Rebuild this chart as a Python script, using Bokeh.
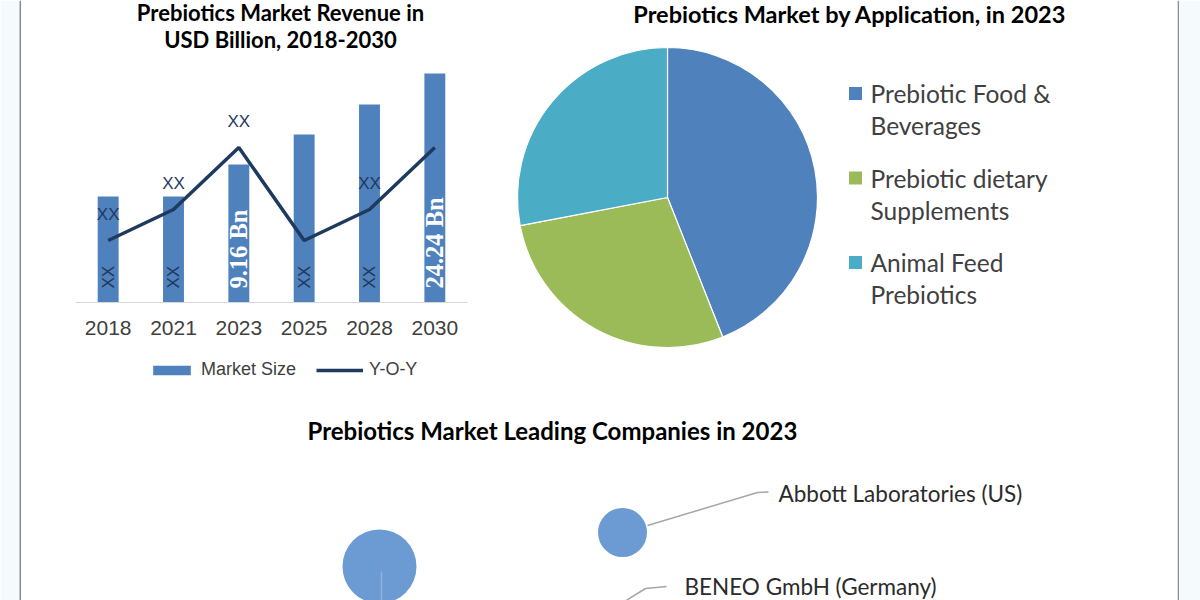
import math
from bokeh.plotting import figure
from bokeh.layouts import row, column
from bokeh.models import Range1d, FactorRange, Label, Legend, LegendItem, Span, BoxAnnotation
from bokeh.core.properties import value
from bokeh.embed import file_html
from bokeh.resources import INLINE

# ---------------- data ----------------
years = ["2018", "2021", "2023", "2025", "2028", "2030"]
market_size = [3.86, 3.86, 9.16, 14.13, 19.10, 24.24]   # USD Bn
yoy_growth = [2.0, 3.0, 5.0, 2.0, 3.0, 5.0]              # Y-O-Y (shown as "XX")
yoy_labels = ["XX", "XX", "XX", "", "XX", ""]
bar_labels = ["XX", "XX", "9.16 Bn", "XX", "XX", "24.24 Bn"]

applications = ["Prebiotic Food &\nBeverages",
                "Prebiotic dietary\nSupplements",
                "Animal Feed\nPrebiotics"]
app_share = [44, 28, 28]
app_colors = ["#4f81bd", "#9bbb59", "#4bacc6"]

companies = ["Abbott Laboratories (US)", "BENEO GmbH (Germany)"]

# bubble diagram (leading companies)
bubble_x = [622, 379]
bubble_y = [532, 566]
bubble_r = [24.5, 37]

FONT_T = "Lato"
TXT = "#404040"
BG_SIDE = "#f5fafc"

# ---------------- side strips ----------------
def strip(w, line_at, side_lo, side_hi):
    s = figure(width=w, height=600, x_range=Range1d(0, w), y_range=Range1d(0, 600),
               output_backend="svg", toolbar_location=None,
               x_axis_location=None, y_axis_location=None, min_border=0)
    s.grid.visible = False
    s.outline_line_color = None
    s.background_fill_color = "white"
    s.border_fill_color = "white"
    s.add_layout(BoxAnnotation(left=side_lo, right=side_hi, fill_color=BG_SIDE,
                               fill_alpha=1, line_color=None))
    s.add_layout(Span(location=line_at, dimension="height", line_color="#8a8a8a", line_width=1.5))
    return s

left = strip(62, 19.8, 0, 19.8)
right = strip(23, 0.7, 0.7, 23)

# ---------------- bar chart ----------------
BASE = -13.71          # value where bars start (axis minimum)
K = 6.034              # px per USD Bn
KY = 31.0              # px per Y-O-Y unit
BELOW, ABOVE = 98, 302 # px below / above the baseline inside the figure
CAT_PX = 65.333

p1 = figure(width=418, height=400,
            x_range=FactorRange(*years, range_padding=13 / CAT_PX, range_padding_units="absolute"),
            y_range=Range1d(BASE - BELOW / K, BASE + ABOVE / K),
            output_backend="svg", toolbar_location=None,
            y_axis_location=None, min_border=0)
p1.extra_y_ranges = {"yoy": Range1d(-BELOW / KY, ABOVE / KY)}
p1.outline_line_color = None
p1.grid.visible = False
p1.xaxis.fixed_location = BASE
p1.xaxis.bounds = (0, len(years))
p1.xaxis.axis_line_color = "#d9d9d9"
p1.xaxis.major_tick_line_color = None
p1.xaxis.minor_tick_line_color = None
p1.xaxis.major_label_text_font = "Liberation Sans"
p1.xaxis.major_label_text_font_size = "21px"
p1.xaxis.major_label_text_color = TXT
p1.xaxis.major_label_standoff = 12

bars = p1.vbar(x=years, top=market_size, bottom=BASE, width=0.32,
               fill_color="#4f81bd", line_color=None)
yline = p1.line(x=years, y=yoy_growth, y_range_name="yoy",
                line_color="#1f3a5f", line_width=3.5)

p1.text(x=years, y=yoy_growth, text=yoy_labels, y_range_name="yoy", y_offset=-26,
        text_align="center", text_baseline="middle",
        text_font=value("Liberation Sans"), text_font_size="17px", text_color="#1f3a5f")

xx_years = [y for y, l in zip(years, bar_labels) if l == "XX"]
xx_text = [l for l in bar_labels if l == "XX"]
val_years = [y for y, l in zip(years, bar_labels) if l != "XX"]
val_text = [l for l in bar_labels if l != "XX"]
p1.text(x=xx_years, y=[BASE] * len(xx_years), text=xx_text, angle=math.pi / 2, y_offset=-14,
        text_align="left", text_baseline="middle",
        text_font=value("Liberation Sans"), text_font_size="17px", text_color="#1f3a5f")
p1.text(x=val_years, y=[BASE] * len(val_years), text=val_text, angle=math.pi / 2, y_offset=-14,
        text_align="left", text_baseline="middle",
        text_font=value("Liberation Serif"), text_font_style="bold",
        text_font_size="24.5px", text_color="white")

for txt, yy in [("Prebiotics Market Revenue in", 388), ("USD Billion, 2018-2030", 361)]:
    p1.add_layout(Label(x=218, y=yy, x_units="screen", y_units="screen", text=txt,
                        text_align="center", text_baseline="middle",
                        text_font=FONT_T, text_font_style="bold",
                        text_font_size="22px", text_color="black"))

legend = Legend(items=[LegendItem(label="Market Size", renderers=[bars]),
                       LegendItem(label="Y-O-Y", renderers=[yline])],
                orientation="horizontal", location=(86, 20),
                glyph_width=47, glyph_height=12, label_height=12, label_standoff=6, spacing=20,
                padding=0, margin=0, border_line_color=None, background_fill_alpha=0,
                label_text_font="Liberation Sans", label_text_font_size="18px",
                label_text_color=TXT)
p1.add_layout(legend)

# ---------------- pie chart ----------------
p2 = figure(width=697, height=400, x_range=Range1d(-187, 510), y_range=Range1d(-203, 197),
            output_backend="svg", toolbar_location=None,
            x_axis_location=None, y_axis_location=None, min_border=0)
p2.grid.visible = False
p2.outline_line_color = None

total = sum(app_share)
starts, ends = [], []
cum = 0
for s in app_share:
    starts.append(math.pi / 2 - 2 * math.pi * cum / total)
    cum += s
    ends.append(math.pi / 2 - 2 * math.pi * cum / total)
p2.wedge(x=0, y=0, radius=150, start_angle=starts, end_angle=ends, direction="clock",
         fill_color=app_colors, line_color="white", line_width=1.2)

first_lines = [a.split("\n")[0] for a in applications]
second_lines = [a.split("\n")[1] for a in applications]
row_y = [104 - 84.5 * i for i in range(len(applications))]
p2.rect(x=[188] * len(applications), y=row_y, width=13, height=13,
        fill_color=app_colors, line_color=None)
p2.text(x=[203] * len(applications), y=row_y, text=first_lines,
        text_align="left", text_baseline="middle",
        text_font=value(FONT_T), text_font_size="24.5px", text_color=TXT)
p2.text(x=[203] * len(applications), y=[v - 32 for v in row_y], text=second_lines,
        text_align="left", text_baseline="middle",
        text_font=value(FONT_T), text_font_size="24.5px", text_color=TXT)
p2.add_layout(Label(x=182.5, y=184, text="Prebiotics Market by Application, in 2023",
                    text_align="center", text_baseline="middle",
                    text_font=FONT_T, text_font_style="bold",
                    text_font_size="23.5px", text_color="black"))

# ---------------- leading companies ----------------
p3 = figure(width=1115, height=200, x_range=Range1d(62, 1177), y_range=Range1d(600, 400),
            output_backend="svg", toolbar_location=None,
            x_axis_location=None, y_axis_location=None, min_border=0)
p3.grid.visible = False
p3.outline_line_color = None

p3.multi_line(xs=[[647, 757, 768], [624, 645, 666]],
              ys=[[525, 492, 491.5], [601, 588, 586]],
              line_color="#a6a6a6", line_width=1.5)
p3.circle(x=bubble_x, y=bubble_y, radius=bubble_r, fill_color="#6b9bd2", line_color=None)
p3.multi_line(xs=[[381, 381]], ys=[[571, 602]], line_color="#92b3dc", line_width=1.5)
p3.text(x=[778, 684], y=[493, 586], text=companies, text_align="left", text_baseline="middle",
        text_font=value(FONT_T), text_font_size="22.5px", text_color="#2b2b2b")
p3.add_layout(Label(x=307, y=430, text="Prebiotics Market Leading Companies in 2023",
                    text_align="left", text_baseline="middle",
                    text_font=FONT_T, text_font_style="bold",
                    text_font_size="24px", text_color="black"))

layout = row(left, column(row(p1, p2), p3), right)
open("out.html", "w").write(file_html(layout, INLINE))
